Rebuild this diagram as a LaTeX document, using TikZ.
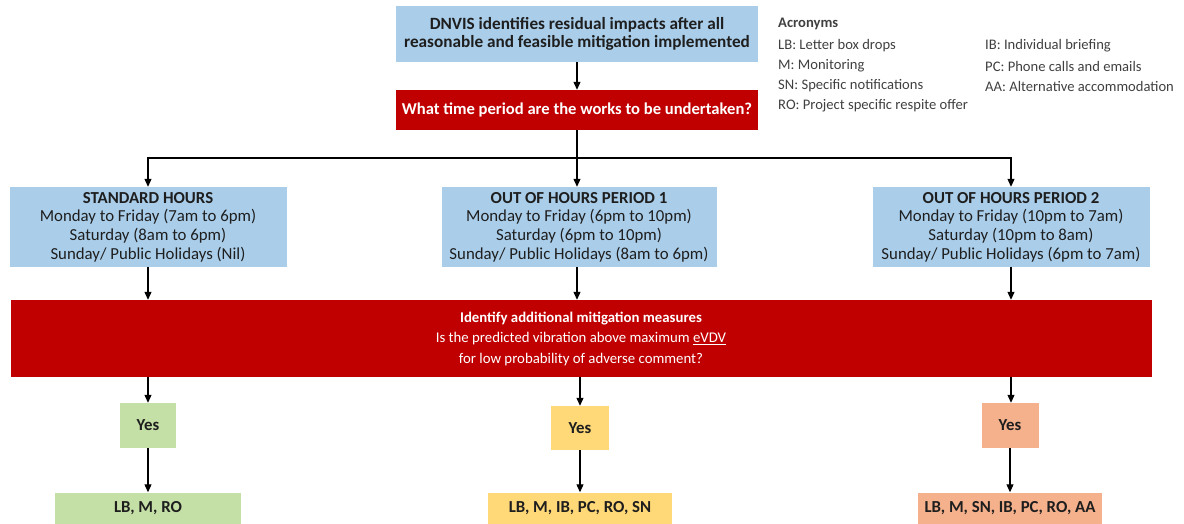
\documentclass[tikz,border=0pt]{standalone}
\usepackage{fontspec}
\setmainfont{Carlito}
\usepackage{xcolor}
\usetikzlibrary{
    calc,
    arrows.meta,
    positioning
}
\definecolor{boxblue}{RGB}{170,206,234}
\definecolor{boxred}{RGB}{192,0,0}
\definecolor{boxgreen}{RGB}{197,224,166}
\definecolor{boxyellow}{RGB}{255,217,120}
\definecolor{boxorange}{RGB}{245,177,140}
\definecolor{txtdark}{RGB}{30,30,30}
\definecolor{txtgray}{RGB}{64,64,64}
\tikzset{% common look of all boxes
    flowbox/.style={draw=none, fill=#1, inner sep=2pt, align=center, text=txtdark,
        font=\fontsize{16.8}{18.6}\selectfont},
    redbox/.style={flowbox=boxred, text=white},
    flowline/.style={line width=1.1pt, draw=black},
    flowarrow/.style={flowline, -{Triangle[length=8pt,width=7pt]}}
}

\begin{document}
\begin{tikzpicture}[x=1pt, y=-1pt,
            acro/.style={anchor=west, inner sep=0pt, text=txtgray, font=\fontsize{14.6}{16}\selectfont}
        ]
        \useasboundingbox (0,0) rectangle (1184,524);

        % top of the flow
        \node[flowbox=boxblue, minimum width=362pt, minimum height=56pt, font=\bfseries\fontsize{17.2}{18.5}\selectfont] (start) at (577,34)
            {DNVIS identifies residual impacts after all\\reasonable and feasible mitigation implemented};
        \node[redbox, minimum width=362pt, minimum height=40pt, font=\bfseries\fontsize{16.6}{18}\selectfont] (when) at (577,110)
            {What time period are the works to be undertaken?};

        % acronyms
        \node[acro, font=\bfseries\fontsize{14.6}{16}\selectfont] (acr) at (778,24) {Acronyms};
        \node[acro] (lb) at (778,46) {LB: Letter box drops};
        \node[acro] (m)  at (778,66) {M: Monitoring};
        \node[acro] (sn) at (778,86) {SN: Specific notifications};
        \node[acro] (ro) at (778,106) {RO: Project specific respite offer};
        \node[acro] (ib) at (985,46) {IB: Individual briefing};
        \node[acro] (pc) at (985,66) {PC: Phone calls and emails};
        \node[acro] (aa) at (985,86) {AA: Alternative accommodation};

        % time periods
        \node[flowbox=boxblue, minimum width=277pt, minimum height=80pt] (std) at (148,227)
            {\textbf{STANDARD HOURS}\\Monday to Friday (7am to 6pm)\\Saturday (8am to 6pm)\\Sunday/ Public Holidays (Nil)};
        \node[flowbox=boxblue, minimum width=275pt, minimum height=80pt] (ooh1) at (579,227)
            {\textbf{OUT OF HOURS PERIOD 1}\\Monday to Friday (6pm to 10pm)\\Saturday (6pm to 10pm)\\Sunday/ Public Holidays (8am to 6pm)};
        \node[flowbox=boxblue, minimum width=277pt, minimum height=80pt] (ooh2) at (1011,227)
            {\textbf{OUT OF HOURS PERIOD 2}\\Monday to Friday (10pm to 7am)\\Saturday (10pm to 8am)\\Sunday/ Public Holidays (6pm to 7am)};

        % additional mitigation
        \node[redbox, minimum width=1141pt, minimum height=77pt, font=\fontsize{14.8}{20.5}\selectfont] (extra) at (581,338.5)
            {\textbf{Identify additional mitigation measures}\\Is the predicted vibration above maximum \underline{eVDV}\\for low probability of adverse comment?};

        % answers
        \node[flowbox=boxgreen, minimum width=56pt, minimum height=45pt] (yes1) at (148,425.5) {\textbf{Yes}};
        \node[flowbox=boxyellow, minimum width=58pt, minimum height=44pt] (yes2) at (580,428) {\textbf{Yes}};
        \node[flowbox=boxorange, minimum width=57pt, minimum height=45pt] (yes3) at (1010,425.5) {\textbf{Yes}};

        \node[flowbox=boxgreen, minimum width=186pt, minimum height=31pt] (res1) at (148,508) {\textbf{LB, M, RO}};
        \node[flowbox=boxyellow, minimum width=184pt, minimum height=31pt] (res2) at (580,508) {\textbf{LB, M, IB, PC, RO, SN}};
        \node[flowbox=boxorange, minimum width=184pt, minimum height=31pt] (res3) at (1010,508) {\textbf{LB, M, SN, IB, PC, RO, AA}};

        % connectors
        \coordinate (split) at (577,158);
        \draw[flowarrow] (start) -- (when);
        \draw[flowline] (when) -- (split);
        \draw[flowarrow] (split) -| (std.north);
        \draw[flowarrow] (split) -| (ooh2.north);
        \draw[flowarrow] (split) -- (split |- ooh1.north);
        \draw[flowarrow] (std) -- (std |- extra.north);
        \draw[flowarrow] (split |- ooh1.south) -- (split |- extra.north);
        \draw[flowarrow] (ooh2) -- (ooh2 |- extra.north);
        \draw[flowarrow] (std |- extra.south) -- (yes1);
        \draw[flowarrow] (yes2 |- extra.south) -- (yes2);
        \draw[flowarrow] (ooh2 |- extra.south) -- (ooh2 |- yes3.north);
        \draw[flowarrow] (yes1) -- (res1);
        \draw[flowarrow] (yes2) -- (res2);
        \draw[flowarrow] (yes3) -- (res3);
    \end{tikzpicture}
\end{document}
